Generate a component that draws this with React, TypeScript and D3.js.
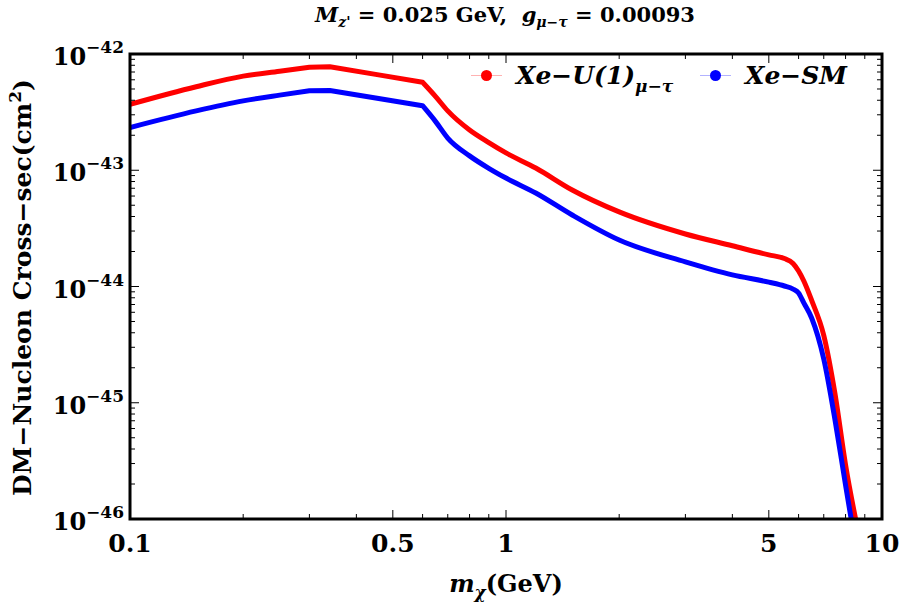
import * as d3 from "d3";

// m_chi (GeV) sample points
const massGeV = [0.1, 0.15, 0.2, 0.25, 0.3, 0.34, 0.45, 0.6, 0.65, 0.7, 0.8, 0.9, 1, 1.2, 1.5, 2, 3, 4, 5, 5.5, 5.8, 6, 6.2, 6.5, 7, 7.5, 8, 8.7];

// Xe - U(1)_{mu-tau}
const xeU1 = [3.69e-43, 5.23e-43, 6.45e-43, 7.11e-43, 7.69e-43, 7.76e-43, 6.68e-43, 5.71e-43, 4.3e-43, 3.24e-43, 2.22e-43, 1.73e-43, 1.41e-43, 1.045e-43, 6.76e-44, 4.38e-44, 2.83e-44, 2.24e-44, 1.87e-44, 1.74e-44, 1.58e-44, 1.36e-44, 1.11e-44, 7.6e-45, 3.8e-45, 1.19e-45, 2.92e-46, 7e-47];

// Xe - SM
const xeSM = [2.33e-43, 3.24e-43, 3.95e-43, 4.43e-43, 4.83e-43, 4.85e-43, 4.19e-43, 3.59e-43, 2.62e-43, 1.89e-43, 1.33e-43, 1.04e-43, 8.57e-44, 6.37e-44, 4.12e-44, 2.51e-44, 1.63e-44, 1.26e-44, 1.09e-44, 1.01e-44, 9.5e-45, 8.8e-45, 7.2e-45, 5.36e-45, 2.38e-45, 7.1e-46, 1.96e-46, 3.8e-47];

const xTickLabels = [0.1, 0.5, 1, 5, 10];
const yTickExps = [-42, -43, -44, -45, -46];

// the curves have sharp corners between m = 0.3 and m = 0.6 GeV
const CORNER_START = 4;
const CORNER_END = 7;

const FONT = "'DejaVu Serif', 'Liberation Serif', serif";
const W = 901;
const H = 611;
const margin = { top: 54, right: 19, bottom: 92, left: 130 };

export default function App() {
  const x = d3.scaleLog().domain([0.1, 10]).range([margin.left, W - margin.right]);
  const y = d3.scaleLog().domain([1e-46, 1e-42]).range([H - margin.bottom, margin.top]);
  const [x0, x1] = x.range();
  const [y0, y1] = y.range(); // y0 bottom, y1 top

  const straight = d3.line().curve(d3.curveLinear);
  const smooth = d3.line().curve(d3.curveMonotoneX);
  const pathFor = (vals: number[]) => {
    const p = vals.map((v, i) => [x(massGeV[i]), y(v)] as [number, number]);
    const a = smooth(p.slice(0, CORNER_START + 1)) ?? "";
    const b = (straight(p.slice(CORNER_START, CORNER_END + 1)) ?? "").replace(/^M/, "L");
    const c = (smooth(p.slice(CORNER_END)) ?? "").replace(/^M/, "L");
    return a + b + c;
  };

  // minor ticks: 2..9 in each decade
  const xMinor: number[] = [];
  [0.1, 1].forEach((dec) => {
    for (let k = 2; k <= 9; k++) {
      if (k !== 5) xMinor.push(dec * k);
    }
  });
  const yMinor: number[] = [];
  [-46, -45, -44, -43].forEach((e) => {
    for (let k = 2; k <= 9; k++) yMinor.push(k * Math.pow(10, e));
  });

  return (
    <svg
      width={W}
      height={H}
      style={{ position: "absolute", left: 0, top: 0, background: "#fff" }}
      fontFamily={FONT}
      fontWeight="bold"
    >
      <defs>
        <clipPath id="plot">
          <rect x={x0} y={y1} width={x1 - x0} height={y0 - y1} />
        </clipPath>
      </defs>

      {/* title */}
      <text x={505} y={22} textAnchor="middle" fontSize={21}>
        <tspan fontStyle="italic">M</tspan>
        <tspan fontStyle="italic" fontSize={14} dy={5}>z'</tspan>
        <tspan dy={-5}>{" = 0.025 GeV,\u00a0\u00a0"}</tspan>
        <tspan fontStyle="italic">g</tspan>
        <tspan fontStyle="italic" fontSize={14} dy={5}>μ−τ</tspan>
        <tspan dy={-5}> = 0.00093</tspan>
      </text>

      {/* curves */}
      <g clipPath="url(#plot)" fill="none" strokeWidth={5} strokeLinejoin="round">
        <path d={pathFor(xeU1)} stroke="#ff0000" />
        <path d={pathFor(xeSM)} stroke="#0000ff" />
      </g>

      {/* ticks */}
      <g stroke="#000" strokeWidth={1}>
        {xTickLabels.map((v) => (
          <g key={`xt${v}`}>
            <line x1={x(v)} x2={x(v)} y1={y0} y2={y0 - 9} />
            <line x1={x(v)} x2={x(v)} y1={y1} y2={y1 + 9} />
          </g>
        ))}
        {xMinor.map((v) => (
          <g key={`xm${v}`}>
            <line x1={x(v)} x2={x(v)} y1={y0} y2={y0 - 5} />
            <line x1={x(v)} x2={x(v)} y1={y1} y2={y1 + 5} />
          </g>
        ))}
        {yTickExps.map((e) => (
          <g key={`yt${e}`}>
            <line x1={x0} x2={x0 + 9} y1={y(Math.pow(10, e))} y2={y(Math.pow(10, e))} />
            <line x1={x1} x2={x1 - 9} y1={y(Math.pow(10, e))} y2={y(Math.pow(10, e))} />
          </g>
        ))}
        {yMinor.map((v, i) => (
          <g key={`ym${i}`}>
            <line x1={x0} x2={x0 + 5} y1={y(v)} y2={y(v)} />
            <line x1={x1} x2={x1 - 5} y1={y(v)} y2={y(v)} />
          </g>
        ))}
      </g>

      {/* frame */}
      <rect x={x0} y={y1} width={x1 - x0} height={y0 - y1} fill="none" stroke="#000" strokeWidth={3} />

      {/* x tick labels */}
      {xTickLabels.map((v) => (
        <text key={`xl${v}`} x={x(v)} y={y0 + 33} textAnchor="middle" fontSize={25}>
          {v}
        </text>
      ))}

      {/* y tick labels */}
      {yTickExps.map((e) => (
        <text key={`yl${e}`} x={124} y={y(Math.pow(10, e)) + 11} textAnchor="end" fontSize={24}>
          10
          <tspan fontSize={17} dy={-12}>{`−${-e}`}</tspan>
        </text>
      ))}

      {/* axis titles */}
      <text x={506} y={592} textAnchor="middle" fontSize={24}>
        <tspan fontStyle="italic">m</tspan>
        <tspan fontStyle="italic" fontSize={17} dy={6}>χ</tspan>
        <tspan dy={-6}>(GeV)</tspan>
      </text>
      <text
        transform={`translate(31,${(y0 + y1) / 2 + 1}) rotate(-90)`}
        textAnchor="middle"
        fontSize={25}
      >
        DM−Nucleon Cross−sec(cm
        <tspan fontSize={17} dy={-10}>2</tspan>
        <tspan dy={10}>)</tspan>
      </text>

      {/* legend */}
      <g>
        <line x1={471} x2={502} y1={75.5} y2={75.5} stroke="#ff0000" strokeOpacity={0.3} />
        <circle cx={486.5} cy={75.5} r={5.5} fill="#ff0000" />
        <text x={516} y={84} fontSize={25} fontStyle="italic">
          Xe−U(1)
          <tspan fontSize={17} dy={8}>μ−τ</tspan>
        </text>
        <line x1={700} x2={731} y1={75.5} y2={75.5} stroke="#0000ff" strokeOpacity={0.3} />
        <circle cx={715.5} cy={75.5} r={5.5} fill="#0000ff" />
        <text x={745} y={84} fontSize={25} fontStyle="italic">
          Xe−SM
        </text>
      </g>
    </svg>
  );
}
